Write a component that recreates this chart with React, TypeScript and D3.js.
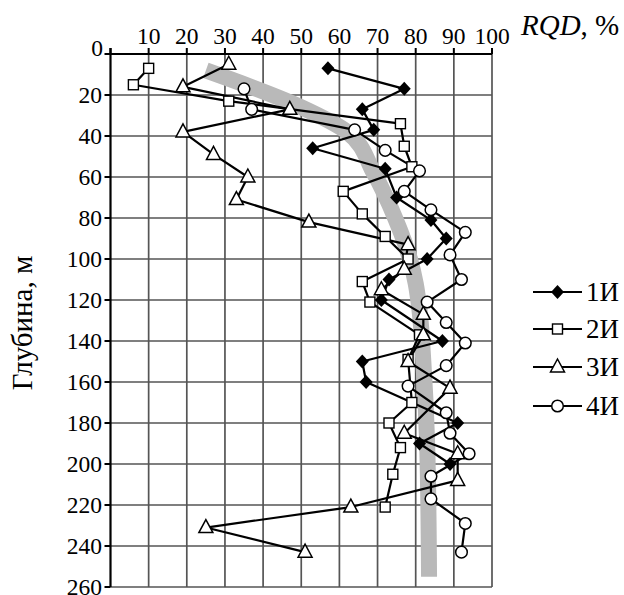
import React from "react";
import * as d3 from "d3";

// depth (m) and RQD (%), one pair of arrays per well
const depth1 = [7, 17, 27, 37, 46, 56, 70, 81, 90, 100, 110, 120, 140, 150, 160, 180, 190, 200];
const rqd1 = [57, 77, 66, 69, 53, 72, 75, 84, 88, 83, 73, 71, 87, 66, 67, 91, 81, 89];

const depth2 = [7, 15, 23, 34, 45, 55, 67, 78, 89, 100, 111, 121, 137, 149, 170, 180, 192, 205, 221];
const rqd2 = [10, 6, 31, 76, 77, 79, 61, 66, 72, 78, 66, 68, 81, 78, 79, 73, 76, 74, 72];

const depth3 = [5, 16, 27, 38, 49, 60, 71, 82, 93, 105, 115, 127, 137, 150, 163, 185, 195, 208, 221, 231, 243];
const rqd3 = [31, 19, 47, 19, 27, 36, 33, 52, 78, 77, 71, 82, 82, 78, 89, 77, 91, 91, 63, 25, 51];

const depth4 = [17, 27, 37, 47, 57, 67, 76, 87, 98, 110, 121, 131, 141, 152, 162, 175, 185, 195, 206, 217, 229, 243];
const rqd4 = [35, 37, 64, 72, 81, 77, 84, 93, 89, 92, 83, 88, 93, 88, 78, 88, 89, 94, 84, 84, 93, 92];

// grey trend band
const trendDepth = [8, 26, 38, 58, 80, 100, 112, 125, 150, 190, 255];
const trendRqd = [25, 50, 62, 69, 74.6, 78.5, 80, 81, 82, 83, 83.5];

const xTicks = [10, 20, 30, 40, 50, 60, 70, 80, 90, 100];
const yTicks = [20, 40, 60, 80, 100, 120, 140, 160, 180, 200, 220, 240, 260];
const seriesNames = ["1И", "2И", "3И", "4И"];

const FONT = "'Liberation Serif', 'Times New Roman', serif";

const x = d3.scaleLinear().domain([0, 100]).range([110.5, 492]);
const y = d3.scaleLinear().domain([0, 260]).range([54, 587]);

const Marker = ({ kind, cx, cy }: { kind: number; cx: number; cy: number }) => {
  if (kind === 0)
    return <path d={`M${cx},${cy - 7}L${cx + 6.5},${cy}L${cx},${cy + 7}L${cx - 6.5},${cy}Z`} fill="#000" />;
  if (kind === 1)
    return <rect x={cx - 5} y={cy - 5} width={10} height={10} fill="#fff" stroke="#000" strokeWidth={1.4} />;
  if (kind === 2)
    return (
      <path
        d={`M${cx},${cy - 8}L${cx + 7},${cy + 5}L${cx - 7},${cy + 5}Z`}
        fill="#fff"
        stroke="#000"
        strokeWidth={1.5}
        strokeLinejoin="miter"
      />
    );
  return <circle cx={cx} cy={cy} r={5.8} fill="#fff" stroke="#000" strokeWidth={1.5} />;
};

export default function App() {
  const series = [
    { d: depth1, v: rqd1 },
    { d: depth2, v: rqd2 },
    { d: depth3, v: rqd3 },
    { d: depth4, v: rqd4 },
  ];

  const line = d3.line<[number, number]>().x((p) => x(p[1])).y((p) => y(p[0]));
  const trendLine = d3
    .line<[number, number]>()
    .x((p) => x(p[1]))
    .y((p) => y(p[0]))
    .curve(d3.curveMonotoneY);

  const legendY = [292, 329, 367, 406];

  return (
    <svg
      width={624}
      height={595}
      style={{ position: "absolute", left: 0, top: 0, background: "#fff" }}
      fontFamily={FONT}
    >
      {/* grid */}
      {xTicks.map((t) => (
        <line key={"gx" + t} x1={x(t)} x2={x(t)} y1={y(0)} y2={y(260)} stroke="#555" strokeWidth={1.7} />
      ))}
      {yTicks.map((t) => (
        <line key={"gy" + t} x1={x(0)} x2={x(100)} y1={y(t)} y2={y(t)} stroke="#555" strokeWidth={1.7} />
      ))}

      {/* trend band */}
      <path
        d={trendLine(trendDepth.map((d, i) => [d, trendRqd[i]]))!}
        fill="none"
        stroke="#b9b9b9"
        strokeWidth={16}
      />

      {/* axes */}
      <line x1={x(0)} x2={x(100)} y1={y(0)} y2={y(0)} stroke="#000" strokeWidth={2.2} />
      <line x1={x(0)} x2={x(0)} y1={y(0) - 6} y2={y(260)} stroke="#000" strokeWidth={2.2} />
      {[0, ...xTicks].map((t) => (
        <line key={"tx" + t} x1={x(t)} x2={x(t)} y1={y(0)} y2={y(0) - 6} stroke="#000" strokeWidth={2} />
      ))}
      {[0, ...yTicks].map((t) => (
        <line key={"ty" + t} x1={x(0) - 6} x2={x(0)} y1={y(t)} y2={y(t)} stroke="#000" strokeWidth={2} />
      ))}
      {xTicks.map((t) => (
        <text key={"lx" + t} x={x(t)} y={44} textAnchor="middle" fontSize={23.5}>
          {t}
        </text>
      ))}
      <text x={103} y={56} textAnchor="end" fontSize={23.5}>
        0
      </text>
      {yTicks.map((t) => (
        <text key={"ly" + t} x={102} y={y(t) + 8} textAnchor="end" fontSize={23.5}>
          {t}
        </text>
      ))}
      <text x={521} y={35} fontSize={29}>
        <tspan fontStyle="italic">RQD</tspan>, %
      </text>
      <text transform={`translate(32,323) rotate(-90)`} textAnchor="middle" fontSize={29}>
        Глубина, м
      </text>

      {/* series */}
      {series.map((s, k) => (
        <path
          key={"s" + k}
          d={line(s.d.map((d, i) => [d, s.v[i]]))!}
          fill="none"
          stroke="#000"
          strokeWidth={2.2}
          strokeLinejoin="round"
        />
      ))}
      {series.map((s, k) =>
        s.d.map((d, i) => <Marker key={`m${k}-${i}`} kind={k} cx={x(s.v[i])} cy={y(d)} />)
      )}

      {/* legend */}
      {seriesNames.map((name, k) => (
        <g key={"lg" + k}>
          <line x1={533} x2={582} y1={legendY[k]} y2={legendY[k]} stroke="#000" strokeWidth={2.2} />
          <Marker kind={k} cx={557.5} cy={legendY[k]} />
          <text x={586} y={legendY[k] + 9} fontSize={27}>
            {name}
          </text>
        </g>
      ))}
    </svg>
  );
}
